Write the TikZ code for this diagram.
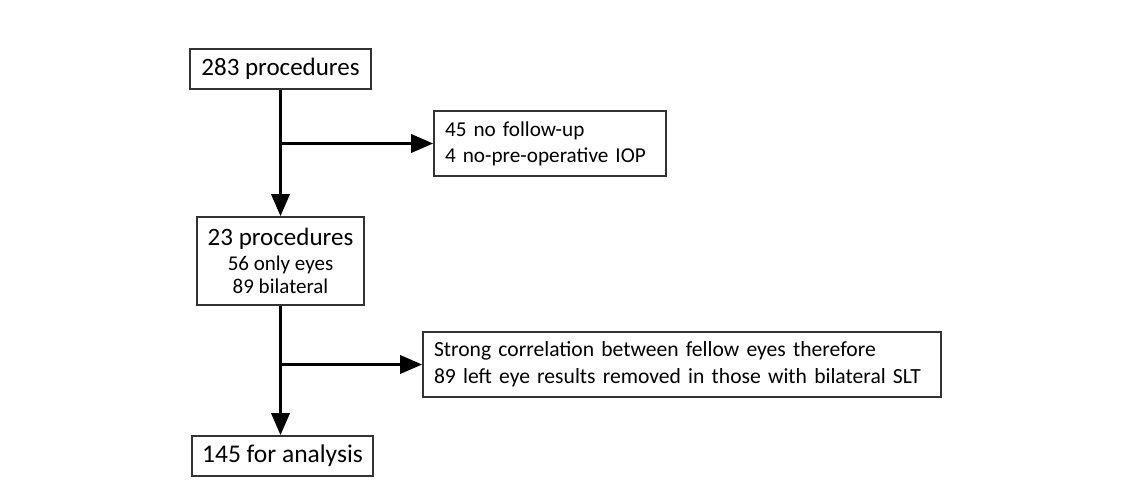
\documentclass[tikz,border=0pt]{standalone}
\usepackage{fontspec}
\setmainfont{Carlito}
\usetikzlibrary{arrows.meta}
\begin{document}
\begin{tikzpicture}[x=1pt,y=-1pt,
  box/.style={draw=black!80, line width=1.6pt, rectangle, inner sep=0pt,
    font=\fontsize{25}{28}\selectfont},
  lbox/.style={box, align=left, inner xsep=11pt, inner ysep=0pt},
  flow/.style={line width=3.4pt, -{Triangle[length=22pt,width=18pt]}}
]
\useasboundingbox (0,0) rectangle (1123,503);
\node[box, minimum width=181pt, minimum height=40pt] (b1) at (280.5,69) {283 procedures};
\node[lbox, text width=210pt, minimum height=65pt, font=\fontsize{21.2}{26}\selectfont] (b2) at (550,143.5) {45 no follow-up\\4 no-pre-operative IOP};
\node[box, minimum width=167pt, minimum height=88pt, align=center] (b3) at (280.5,261)
  {23 procedures\\[-3pt]{\fontsize{21}{25}\selectfont 56 only eyes}\\[-5pt]{\fontsize{21}{25}\selectfont 89 bilateral}};
\node[lbox, text width=496pt, minimum height=65pt, font=\fontsize{21.6}{27}\selectfont] (b4) at (682,364.5)
  {Strong correlation between fellow eyes therefore\\89 left eye results removed in those with bilateral SLT};
\node[box, minimum width=181pt, minimum height=40pt, font=\fontsize{25.5}{28}\selectfont] (b5) at (282.5,456) {145 for analysis};
\draw[flow] (b1.south) -- (b3.north);
\draw[flow] (b1.south |- b2.west) -- (b2.west);
\draw[flow] (b3.south) -- (b3.south |- b5.north);
\draw[flow] (b3.south |- b4.west) -- (b4.west);
\end{tikzpicture}
\end{document}
